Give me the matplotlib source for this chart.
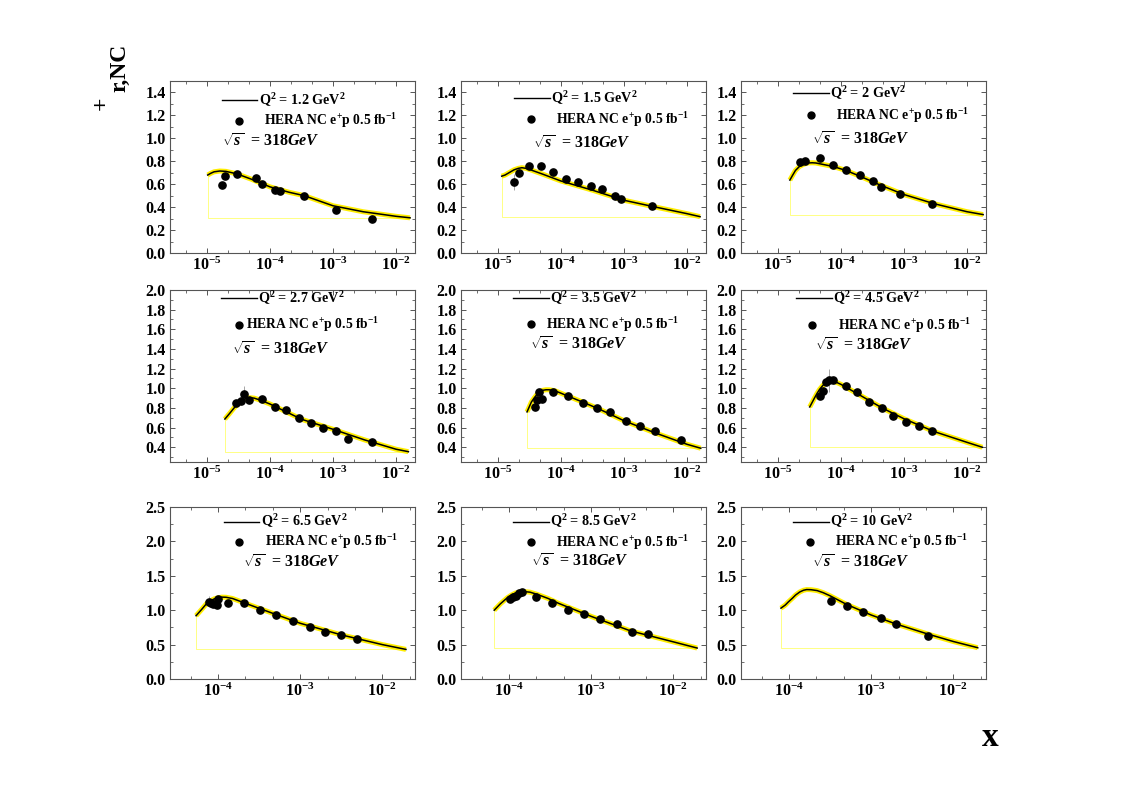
import matplotlib
matplotlib.use('Agg')
import matplotlib.pyplot as plt
from matplotlib.ticker import MultipleLocator, FixedLocator, NullFormatter
import numpy as np

plt.rcParams['font.family'] = ['Liberation Serif', 'DejaVu Serif']
plt.rcParams['font.weight'] = 'bold'
plt.rcParams['mathtext.fontset'] = 'custom'
plt.rcParams['mathtext.rm'] = 'Liberation Serif:bold'
plt.rcParams['mathtext.it'] = 'Liberation Serif:italic:bold'
plt.rcParams['mathtext.bf'] = 'Liberation Serif:bold'

# ---- data (HERA NC e+p, sigma_r vs x) ----
q2_labels = ['1.2', '1.5', '2', '2.7', '3.5', '4.5', '6.5', '8.5', '10']

# Q2 = 1.2
x_q1 = [1.71e-5, 1.93e-5, 3.03e-5, 5.93e-5, 7.39e-5, 1.2e-4, 1.44e-4, 3.5e-4, 1.12e-3, 4.16e-3]
y_q1 = [0.593, 0.671, 0.689, 0.656, 0.60, 0.549, 0.54, 0.50, 0.375, 0.30]
e_q1 = [0.02, 0.02, 0.02, 0.015, 0.015, 0.015, 0.015, 0.01, 0.01, 0.01]
cx_q1 = [1.03e-5, 1.15e-5, 1.3e-5, 1.6e-5, 2.0e-5, 2.5e-5, 3.0e-5, 5.0e-5, 1.0e-4, 2.0e-4, 3.5e-4,
         1.0e-3, 3.0e-3, 1.0e-2, 1.67e-2]
cy_q1 = [0.68, 0.695, 0.708, 0.715, 0.712, 0.70, 0.69, 0.645, 0.577, 0.53, 0.50,
         0.412, 0.36, 0.32, 0.307]

# Q2 = 1.5
x_q2 = [1.82e-5, 2.13e-5, 3.1e-5, 4.77e-5, 7.55e-5, 1.2e-4, 1.86e-4, 2.96e-4, 4.48e-4, 7.13e-4, 8.87e-4, 2.75e-3]
y_q2 = [0.622, 0.70, 0.758, 0.761, 0.704, 0.648, 0.616, 0.581, 0.555, 0.494, 0.468, 0.41]
e_q2 = [0.07, 0.02, 0.015, 0.015, 0.015, 0.015, 0.015, 0.015, 0.015, 0.015, 0.02, 0.01]
cx_q2 = [1.15e-5, 1.3e-5, 1.5e-5, 1.8e-5, 2.1e-5, 2.4e-5, 2.8e-5, 3.2e-5, 5e-5, 1e-4, 3.2e-4,
         1e-3, 3.2e-3, 1e-2, 1.61e-2]
cy_q2 = [0.67, 0.68, 0.70, 0.725, 0.738, 0.744, 0.738, 0.728, 0.69, 0.628, 0.547,
         0.46, 0.40, 0.343, 0.317]

# Q2 = 2
x_q3 = [2.24e-5, 2.69e-5, 4.64e-5, 7.47e-5, 1.2e-4, 2.0e-4, 3.22e-4, 4.31e-4, 8.6e-4, 2.8e-3]
y_q3 = [0.79, 0.80, 0.83, 0.767, 0.725, 0.68, 0.625, 0.575, 0.515, 0.43]
e_q3 = [0.02, 0.02, 0.015, 0.015, 0.015, 0.015, 0.015, 0.015, 0.01, 0.01]
cx_q3 = [1.55e-5, 1.7e-5, 1.9e-5, 2.2e-5, 2.6e-5, 3.0e-5, 3.5e-5, 4.0e-5, 7.5e-5, 1.2e-4, 2e-4,
         4.3e-4, 1e-3, 3e-3, 1e-2, 1.8e-2]
cy_q3 = [0.636, 0.675, 0.72, 0.755, 0.775, 0.785, 0.787, 0.785, 0.755, 0.72, 0.67,
         0.59, 0.51, 0.43, 0.36, 0.335]

# Q2 = 2.7
x_q4 = [2.89e-5, 3.47e-5, 3.83e-5, 4.7e-5, 7.4e-5, 1.2e-4, 1.8e-4, 2.89e-4, 4.43e-4, 7.02e-4, 1.13e-3, 1.75e-3, 4.16e-3]
y_q4 = [0.847, 0.867, 0.942, 0.88, 0.894, 0.806, 0.782, 0.70, 0.644, 0.596, 0.568, 0.48, 0.453]
e_q4 = [0.03, 0.03, 0.08, 0.02, 0.02, 0.015, 0.015, 0.015, 0.015, 0.015, 0.015, 0.015, 0.015]
cx_q4 = [1.93e-5, 2.3e-5, 2.7e-5, 3.0e-5, 3.4e-5, 3.8e-5, 4.3e-5, 4.8e-5, 5.6e-5, 7e-5, 1e-4,
         3.2e-4, 1e-3, 3.2e-3, 1e-2, 1.57e-2]
cy_q4 = [0.687, 0.745, 0.80, 0.83, 0.862, 0.885, 0.898, 0.904, 0.90, 0.88, 0.84,
         0.684, 0.583, 0.474, 0.38, 0.355]

# Q2 = 3.5
x_q5 = [3.87e-5, 4.16e-5, 4.48e-5, 5.0e-5, 7.47e-5, 1.29e-4, 2.24e-4, 3.73e-4, 6.0e-4, 1.08e-3, 1.8e-3, 3.1e-3, 8.0e-3]
y_q5 = [0.81, 0.88, 0.96, 0.89, 0.96, 0.92, 0.85, 0.80, 0.76, 0.67, 0.62, 0.57, 0.47]
e_q5 = [0.03, 0.07, 0.03, 0.03, 0.02, 0.02, 0.015, 0.015, 0.015, 0.015, 0.015, 0.015, 0.015]
cx_q5 = [2.9e-5, 3.4e-5, 3.8e-5, 4.2e-5, 4.7e-5, 5.2e-5, 5.8e-5, 6.5e-5, 8e-5, 1e-4, 2.2e-4,
         4e-4, 1e-3, 3e-3, 1e-2, 1.65e-2]
cy_q5 = [0.76, 0.86, 0.905, 0.94, 0.965, 0.98, 0.985, 0.985, 0.975, 0.95, 0.86,
         0.79, 0.67, 0.55, 0.43, 0.39]

# Q2 = 4.5
x_q6 = [4.65e-5, 5.2e-5, 5.8e-5, 6.45e-5, 7.5e-5, 1.2e-4, 1.8e-4, 2.8e-4, 4.5e-4, 6.7e-4, 1.08e-3, 1.73e-3, 2.8e-3]
y_q6 = [0.92, 0.97, 1.06, 1.08, 1.08, 1.02, 0.96, 0.86, 0.80, 0.72, 0.66, 0.62, 0.57]
e_q6 = [0.03, 0.03, 0.03, 0.12, 0.03, 0.02, 0.02, 0.015, 0.015, 0.015, 0.015, 0.015, 0.015]
cx_q6 = [3.2e-5, 3.8e-5, 4.2e-5, 4.6e-5, 5.1e-5, 5.6e-5, 6.3e-5, 7e-5, 8.2e-5, 1e-4, 2e-4,
         4.5e-4, 1e-3, 3e-3, 1e-2, 1.75e-2]
cy_q6 = [0.81, 0.90, 0.95, 0.99, 1.025, 1.05, 1.065, 1.07, 1.065, 1.04, 0.93,
         0.80, 0.69, 0.56, 0.45, 0.40]

# Q2 = 6.5
x_q7 = [7.66e-5, 8.26e-5, 8.8e-5, 9.7e-5, 1.01e-4, 1.34e-4, 2.06e-4, 3.24e-4, 5.07e-4, 8.07e-4, 1.3e-3, 1.99e-3, 3.17e-3, 4.95e-3]
y_q7 = [1.124, 1.10, 1.095, 1.08, 1.17, 1.11, 1.11, 1.00, 0.93, 0.85, 0.76, 0.69, 0.64, 0.58]
e_q7 = [0.08, 0.05, 0.03, 0.03, 0.03, 0.02, 0.02, 0.02, 0.02, 0.02, 0.02, 0.02, 0.02, 0.02]
cx_q7 = [5.4e-5, 6.3e-5, 7.3e-5, 8.2e-5, 9e-5, 1.0e-4, 1.11e-4, 1.25e-4, 1.5e-4, 1.9e-4, 2.46e-4,
         5e-4, 1e-3, 3.2e-3, 1e-2, 1.94e-2]
cy_q7 = [0.92, 1.01, 1.10, 1.14, 1.165, 1.18, 1.19, 1.188, 1.17, 1.125, 1.075,
         0.94, 0.81, 0.64, 0.50, 0.43]

# Q2 = 8.5
x_q8 = [1.03e-4, 1.12e-4, 1.22e-4, 1.33e-4, 1.44e-4, 2.13e-4, 3.33e-4, 5.21e-4, 8.15e-4, 1.27e-3, 2.05e-3, 3.11e-3, 4.86e-3]
y_q8 = [1.17, 1.19, 1.20, 1.25, 1.26, 1.19, 1.10, 1.01, 0.94, 0.87, 0.80, 0.68, 0.65]
e_q8 = [0.04, 0.03, 0.03, 0.03, 0.03, 0.02, 0.02, 0.02, 0.02, 0.02, 0.02, 0.02, 0.02]
cx_q8 = [6.6e-5, 7.8e-5, 8.7e-5, 9.5e-5, 1.07e-4, 1.2e-4, 1.37e-4, 1.55e-4, 1.8e-4, 2.2e-4, 3e-4,
         4e-4, 1e-3, 3e-3, 1e-2, 1.95e-2]
cy_q8 = [1.0, 1.09, 1.14, 1.18, 1.22, 1.25, 1.265, 1.27, 1.262, 1.23, 1.17,
         1.10, 0.91, 0.70, 0.54, 0.45]

# Q2 = 10
x_q9 = [3.24e-4, 5.02e-4, 7.98e-4, 1.3e-3, 2.01e-3, 4.96e-3]
y_q9 = [1.134, 1.061, 0.974, 0.891, 0.80, 0.63]
e_q9 = [0.02, 0.02, 0.02, 0.02, 0.02, 0.02]
cx_q9 = [7.97e-5, 9.0e-5, 9.8e-5, 1.1e-4, 1.2e-4, 1.35e-4, 1.5e-4, 1.64e-4, 1.85e-4, 2.2e-4, 2.6e-4,
         3.15e-4, 5e-4, 1e-3, 2e-3, 5e-3, 1e-2, 1.98e-2]
cy_q9 = [1.03, 1.075, 1.12, 1.175, 1.22, 1.265, 1.29, 1.30, 1.298, 1.285, 1.255,
         1.21, 1.085, 0.93, 0.80, 0.65, 0.545, 0.455]

points = [(x_q1, y_q1, e_q1), (x_q2, y_q2, e_q2), (x_q3, y_q3, e_q3),
          (x_q4, y_q4, e_q4), (x_q5, y_q5, e_q5), (x_q6, y_q6, e_q6),
          (x_q7, y_q7, e_q7), (x_q8, y_q8, e_q8), (x_q9, y_q9, e_q9)]
curves = [(cx_q1, cy_q1), (cx_q2, cy_q2), (cx_q3, cy_q3),
          (cx_q4, cy_q4), (cx_q5, cy_q5), (cx_q6, cy_q6),
          (cx_q7, cy_q7), (cx_q8, cy_q8), (cx_q9, cy_q9)]

# ---- layout (pixels of the 1131x795 canvas) ----
W, H = 1131, 795
col_left = [170, 461, 741]
row_span = [(81, 253), (290, 462), (507, 679)]
ax_w = 245
row_ylim = [(0, 1.5), (0.25, 2.0), (0, 2.5)]
row_yticks = [np.arange(0, 1.41, 0.2), np.arange(0.4, 2.01, 0.2), np.arange(0, 2.51, 0.5)]
row_ymin = [0.1, 0.1, 0.25]
row_xlim = [(2.6e-6, 0.02), (2.6e-6, 0.02), (2.6e-5, 0.025)]
row_dec = [[-5, -4, -3, -2], [-5, -4, -3, -2], [-4, -3, -2]]

# legend anchor (axes fractions): line x0, line y, dot x, dot y, HERA text x, sqrt x, sqrt y
leg_pos = [
    (0.212, 0.89, 0.283, 0.77, 0.384, 0.212, 0.645),
    (0.218, 0.90, 0.286, 0.777, 0.388, 0.295, 0.634),
    (0.213, 0.93, 0.284, 0.80, 0.388, 0.290, 0.657),
    (0.210, 0.955, 0.282, 0.797, 0.310, 0.252, 0.647),
    (0.213, 0.955, 0.286, 0.80, 0.347, 0.282, 0.676),
    (0.225, 0.955, 0.290, 0.795, 0.396, 0.302, 0.674),
    (0.220, 0.915, 0.283, 0.798, 0.388, 0.297, 0.669),
    (0.213, 0.915, 0.286, 0.795, 0.388, 0.286, 0.675),
    (0.213, 0.915, 0.282, 0.798, 0.384, 0.289, 0.669),
]

fig = plt.figure(figsize=(W / 100, H / 100), dpi=100)
frame_col = '#555555'

for i in range(9):
    r, c = divmod(i, 3)
    top, bot = row_span[r]
    ax = fig.add_axes([col_left[c] / W, 1 - bot / H, ax_w / W, (bot - top) / H])
    ax.set_xscale('log')
    ax.set_xlim(*row_xlim[r])
    ax.set_ylim(*row_ylim[r])

    cx, cy = curves[i]
    # thin yellow outline left by the band polygon
    ax.plot([cx[0], cx[0], cx[-1]], [cy[0], cy[-1], cy[-1]], color='#ffff70', lw=0.6, zorder=1)
    ax.plot(cx, cy, color='#ffee00', lw=3.6, solid_capstyle='butt', solid_joinstyle='round', zorder=2)
    ax.plot(cx, cy, color='black', lw=1.1, solid_joinstyle='round', zorder=3)

    px, py, pe = points[i]
    ax.errorbar(px, py, yerr=pe, fmt='none', ecolor='#999999', elinewidth=0.6, capsize=0, zorder=4)
    ax.plot(px, py, 'o', color='black', ms=5.2, zorder=5)

    # axis cosmetics
    for sp in ax.spines.values():
        sp.set_color(frame_col)
        sp.set_linewidth(0.8)
    dec = row_dec[r]
    ax.xaxis.set_major_locator(FixedLocator([10.0 ** d for d in dec]))
    ax.set_xticklabels([r'$10^{%d}$' % d for d in dec])
    lo, hi = np.log10(row_xlim[r][0]), np.log10(row_xlim[r][1])
    minors = [10 ** (d + f) for d in range(int(np.floor(lo)), int(np.ceil(hi)) + 1)
              for f in (1 / 3, 2 / 3) if lo < d + f < hi]
    ax.xaxis.set_minor_locator(FixedLocator(minors))
    ax.xaxis.set_minor_formatter(NullFormatter())
    ax.set_yticks(row_yticks[r])
    ax.set_yticklabels(['%.1f' % v for v in row_yticks[r]])
    ax.yaxis.set_minor_locator(MultipleLocator(row_ymin[r]))
    ax.tick_params(which='both', direction='in', top=True, right=True, color=frame_col,
                   labelsize=11.5, pad=3)
    ax.tick_params(which='major', length=3.5, width=0.7)
    ax.tick_params(which='minor', length=2, width=0.6)
    for lab in ax.get_xticklabels() + ax.get_yticklabels():
        lab.set_fontweight('bold')

    # legend block
    lx, ly, dx, dy, hx, sx, sy = leg_pos[i]
    ax.plot([lx, lx + 0.145], [ly, ly], color='black', lw=1.0, transform=ax.transAxes, clip_on=False)
    ax.text(lx + 0.15, ly, r'Q$^2$ = %s GeV$^2$' % q2_labels[i], transform=ax.transAxes,
            fontsize=10.2, fontweight='bold', va='center', ha='left')
    ax.plot([dx], [dy], 'o', color='black', ms=5, transform=ax.transAxes, clip_on=False)
    ax.text(hx, dy, r'HERA NC e$^{+}$p 0.5 fb$^{-1}$', transform=ax.transAxes,
            fontsize=9.8, fontweight='bold', va='center', ha='left')
    ax.text(sx, sy, r'$\sqrt{s}$  = 318$GeV$', transform=ax.transAxes,
            fontsize=11.5, fontweight='bold', va='center', ha='left')

# axis titles (the sigma glyph is missing in the original, only sub/superscript remain)
fig.text(101 / W, 1 - 103 / H, '+', fontsize=17, fontweight='bold', rotation=90,
         ha='center', va='center')
fig.text(120 / W, 1 - 68 / H, 'r,NC', fontsize=17, fontweight='bold', rotation=90,
         ha='center', va='center')
fig.text(990 / W, 1 - 738 / H, 'x', fontsize=24, fontweight='bold', ha='center', va='center')

fig.savefig('out.png', dpi=100)
